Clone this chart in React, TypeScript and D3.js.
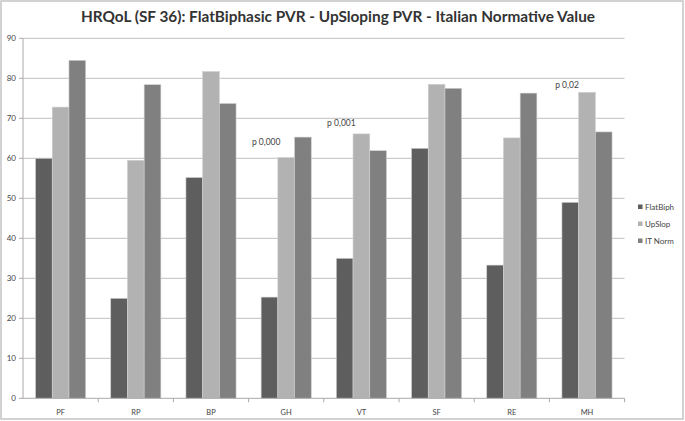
import React from "react";
import * as d3 from "d3";

const categories = ["PF", "RP", "BP", "GH", "VT", "SF", "RE", "MH"];
const seriesNames = ["FlatBiph", "UpSlop", "IT Norm"];
const flatBiph = [60, 25, 55.2, 25.3, 35, 62.5, 33.3, 49];
const upSlop = [72.8, 59.5, 81.7, 60.2, 66.1, 78.5, 65.1, 76.5];
const itNorm = [84.5, 78.4, 73.7, 65.3, 61.9, 77.5, 76.3, 66.6];
const yTicks = [0, 10, 20, 30, 40, 50, 60, 70, 80, 90];
const annotations = [
  { cat: "GH", text: "p 0,000", level: 63.4 },
  { cat: "VT", text: "p 0,001", level: 68.0 },
  { cat: "MH", text: "p 0,02", level: 77.5 },
];
const colors = ["#5e5e5e", "#b2b2b2", "#808080"];
const title = "HRQoL (SF 36): FlatBiphasic PVR - UpSloping PVR - Italian Normative Value";

export default function App() {
  const W = 685, H = 421;
  const left = 23, right = 624.6, top = 38.3, bottom = 398.3;
  const x = d3.scaleBand().domain(categories).range([left, right]).paddingInner(0).paddingOuter(0);
  const y = d3.scaleLinear().domain([0, 90]).range([bottom, top]);
  const series = [flatBiph, upSlop, itNorm];
  const bw = x.bandwidth();
  const barW = bw / 4.5;
  const gap = (bw - 3 * barW) / 2;
  const font = "Lato, 'Open Sans', sans-serif";

  return (
    <div>
      <style>{"body{margin:0}"}</style>
      <svg width={W} height={H} style={{ display: "block", fontFamily: font }}>
        <rect x={0} y={0} width={W} height={H} fill="#fff" />
        <rect x={1} y={1} width={682} height={418} fill="none" stroke="#c4c4c4" strokeWidth={1.5} />
        <text x={338} y={22} textAnchor="middle" fontSize={15} fontWeight="bold" fill="#333" textLength={514} lengthAdjust="spacingAndGlyphs">{title}</text>
        {yTicks.map((t) => (
          <g key={t}>
            {t > 0 && (
              <line x1={left} x2={right} y1={y(t)} y2={y(t)} stroke="#c0c0c0" strokeWidth={1} />
            )}
            <line x1={left - 4} x2={left} y1={y(t)} y2={y(t)} stroke="#aaa" />
            <text x={left - 7} y={y(t) + 3} textAnchor="end" fontSize={8} fill="#444">{t}</text>
          </g>
        ))}
        <line x1={left} x2={left} y1={top} y2={bottom} stroke="#aaa" />
        {series.map((s, si) =>
          s.map((v, ci) => (
            <rect
              key={`${si}-${ci}`}
              x={(x(categories[ci]) as number) + gap + si * barW}
              y={y(v)}
              width={barW}
              height={bottom - y(v)}
              fill={colors[si]}
              stroke="#d0d0d0"
              strokeWidth={0.6}
            />
          ))
        )}
        <line x1={left} x2={right} y1={bottom} y2={bottom} stroke="#aaa" />
        {categories.map((c) => (
          <g key={c}>
            <line x1={(x(c) as number) + bw} x2={(x(c) as number) + bw} y1={bottom} y2={bottom + 4} stroke="#aaa" />
            <text x={(x(c) as number) + bw / 2} y={bottom + 17} textAnchor="middle" fontSize={7.5} fill="#444">{c}</text>
          </g>
        ))}
        {annotations.map((a) => (
          <text key={a.text} x={(x(a.cat) as number) + bw / 2 - 20} y={y(a.level)} textAnchor="middle" fontSize={8.5} fill="#444">{a.text}</text>
        ))}
        {seriesNames.map((n, i) => (
          <g key={n}>
            <rect x={638} y={207 + i * 17 - 2.5} width={4.5} height={4.5} fill={colors[i]} />
            <text x={645} y={207 + i * 17 + 3} fontSize={8} fill="#444">{n}</text>
          </g>
        ))}
      </svg>
    </div>
  );
}
